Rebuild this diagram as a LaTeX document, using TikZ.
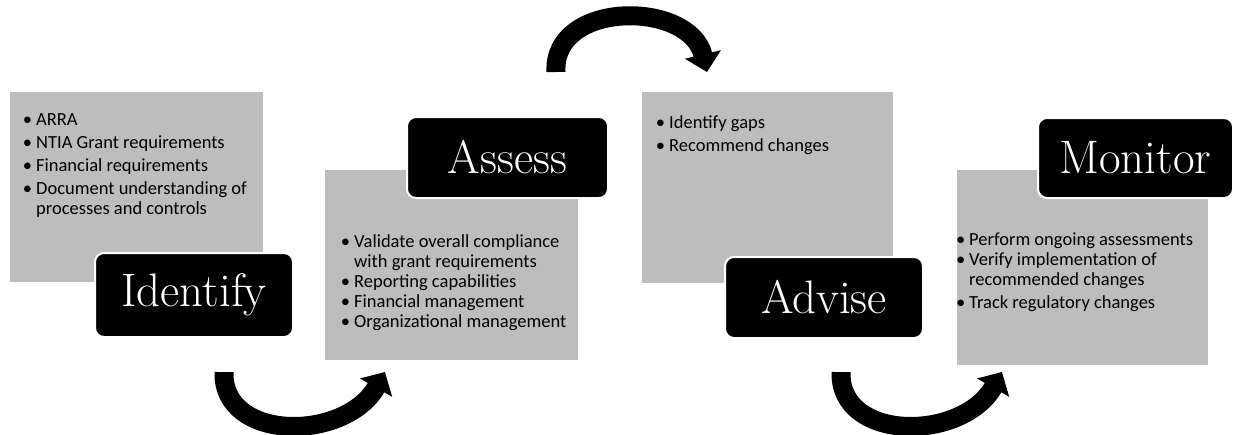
\documentclass[tikz,border=0pt]{standalone}
\usepackage{fontspec}
\usetikzlibrary{arrows.meta,calc}
\newfontfamily\bodyfont{Carlito}
\begin{document}
\begin{tikzpicture}[x=1pt,y=-1pt,
  panel/.style={fill=black!26,draw=none},
  stage/.style={fill=black,draw=white,line width=2pt,rounded corners=9pt,
    text=white,font=\fontsize{47}{50}\selectfont,inner sep=0pt},
  bullets/.style={anchor=base west,inner sep=0pt,align=left,
    font=\bodyfont\fontsize{18.5}{20}\selectfont},
  flow/.style={line width=19pt,-{Triangle[length=18pt,width=36pt]}}]
\useasboundingbox (0,0) rectangle (1236,434);

% content panels
\path[panel] (10,92) rectangle (263,282);
\path[panel] (325,170) rectangle (578,360);
\path[panel] (642,92) rectangle (893,283);
\path[panel] (957,170) rectangle (1208,365);

% bullet lists
\newcommand\itm{\llap{\textbullet\hspace{4pt}}}
\node[bullets] (identifylist) at (36,125) {\begin{tabular}[t]{@{}l@{}}
\itm ARRA\\[3pt]
\itm NTIA Grant requirements\\[3pt]
\itm Financial requirements\\[3pt]
\itm Document understanding of\\
processes and controls
\end{tabular}};
\node[bullets] (assesslist) at (354,247) {\begin{tabular}[t]{@{}l@{}}
\itm Validate overall compliance\\
with grant requirements\\
\itm Reporting capabilities\\
\itm Financial management\\
\itm Organizational management
\end{tabular}};
\node[bullets] (adviselist) at (669,128) {\begin{tabular}[t]{@{}l@{}}
\itm Identify gaps\\[3pt]
\itm Recommend changes
\end{tabular}};
\node[bullets] (monitorlist) at (969,245) {\begin{tabular}[t]{@{}l@{}}
\itm Perform ongoing assessments\\
\itm Verify implementation of\\
recommended changes\\[3pt]
\itm Track regulatory changes
\end{tabular}};

% stage labels
\node[stage,minimum width=198pt,minimum height=84pt] (identify) at (194,295) {Identify};
\node[stage,minimum width=201pt,minimum height=81pt] (assess) at (507.5,157.5) {Assess};
\node[stage,minimum width=198pt,minimum height=81pt] (advise) at (824,297.5) {Advise};
\node[stage,minimum width=195pt,minimum height=80pt] (monitor) at (1135.5,158) {Monitor};

% curved flow arrows between panels
\coordinate (a1s) at (224,372);
\coordinate (a1e) at (385,372);
\coordinate (a2s) at (556,72);
\coordinate (a2e) at (707,72);
\coordinate (a3s) at (841,372);
\coordinate (a3e) at (1002,372);
\draw[flow] (a1s) .. controls ($(a1s)+(-2,70)$) and ($(a1e)+(-40,70)$) .. (a1e);
\draw[flow] (a2s) .. controls ($(a2s)+(-4,-72)$) and ($(a2e)+(-17,-72)$) .. (a2e);
\draw[flow] (a3s) .. controls ($(a3s)+(-2,70)$) and ($(a3e)+(-40,70)$) .. (a3e);
\end{tikzpicture}
\end{document}
